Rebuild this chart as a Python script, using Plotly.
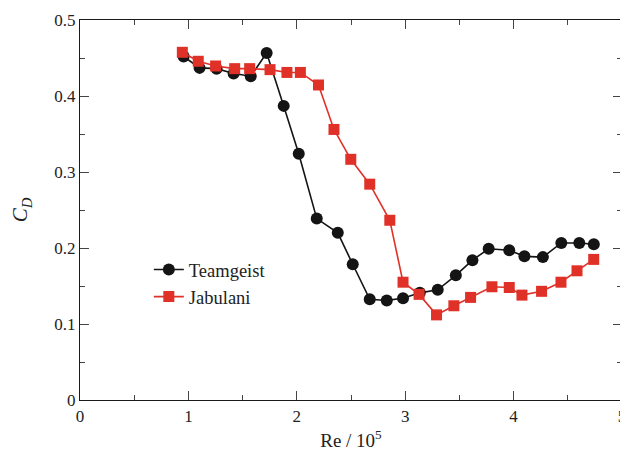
import plotly.graph_objects as go

re_team = [0.956, 1.103, 1.26, 1.417, 1.575, 1.722, 1.879, 2.018, 2.184, 2.378, 2.516, 2.673, 2.83,
           2.98, 3.135, 3.30, 3.467, 3.62, 3.77, 3.96, 4.10, 4.27, 4.44, 4.606, 4.74]
cd_team = [0.452, 0.437, 0.436, 0.4295, 0.426, 0.4566, 0.387, 0.324, 0.2387, 0.220, 0.1786, 0.1325, 0.131,
           0.134, 0.141, 0.145, 0.164, 0.184, 0.199, 0.197, 0.189, 0.188, 0.2066, 0.2066, 0.205]

re_jab = [0.944, 1.091, 1.251, 1.427, 1.565, 1.753, 1.909, 2.033, 2.20, 2.343, 2.498, 2.673, 2.858,
          2.98, 3.128, 3.289, 3.449, 3.603, 3.80, 3.96, 4.077, 4.258, 4.437, 4.585, 4.739]
cd_jab = [0.4575, 0.4457, 0.4395, 0.436, 0.436, 0.4347, 0.431, 0.431, 0.4145, 0.356, 0.3167, 0.284, 0.2365,
          0.155, 0.139, 0.112, 0.124, 0.135, 0.149, 0.148, 0.138, 0.143, 0.155, 0.170, 0.185]

x_ticks = [0, 1, 2, 3, 4, 5]
y_ticks = [0, 0.1, 0.2, 0.3, 0.4, 0.5]
y_tick_labels = ["0", "0.1", "0.2", "0.3", "0.4", "0.5"]

BLACK = "#141414"
RED = "#e03128"
FONT = "Liberation Serif"

fig = go.Figure()
fig.add_trace(go.Scatter(
    x=re_team, y=cd_team, mode="lines+markers", name="Teamgeist",
    line=dict(color=BLACK, width=1.6),
    marker=dict(symbol="circle", size=12, color=BLACK),
))
fig.add_trace(go.Scatter(
    x=re_jab, y=cd_jab, mode="lines+markers", name="Jabulani",
    line=dict(color=RED, width=1.6),
    marker=dict(symbol="square", size=11, color=RED),
))

axis_common = dict(
    showgrid=False, zeroline=False, showline=True, linecolor="#1a1a1a", linewidth=1.3,
    mirror="allticks", ticks="inside", ticklen=9, tickwidth=1, tickcolor="#444",
    tickfont=dict(family=FONT, size=17, color="#222"), automargin=False,
)

fig.update_xaxes(
    range=[0, 5], tickvals=x_ticks, ticktext=[str(v) for v in x_ticks],
    minor=dict(ticks="inside", ticklen=5, dtick=0.5, tickcolor="#444"),
    title=dict(text="Re / 10<sup>5</sup>", font=dict(family=FONT, size=19, color="#222"), standoff=9),
    **axis_common,
)
fig.update_yaxes(
    range=[0, 0.5], tickvals=y_ticks, ticktext=y_tick_labels,
    minor=dict(ticks="inside", ticklen=5, dtick=0.05, tickcolor="#444"),
    title=dict(text="<i>C<sub>D</sub></i>", font=dict(family=FONT, size=21, color="#222"), standoff=20),
    **axis_common,
)

# page body has an 8px margin, so the figure is sized/offset to fill the window
fig.update_layout(
    width=620, height=457,
    margin=dict(l=72, r=6, t=12, b=65),
    paper_bgcolor="white", plot_bgcolor="white",
    font=dict(family=FONT, color="#222"),
    legend=dict(x=0.127, y=0.392, xanchor="left", yanchor="top",
                font=dict(family=FONT, size=18.5, color="#222"),
                bgcolor="rgba(0,0,0,0)", itemwidth=30, tracegroupgap=0),
    showlegend=True,
)

fig.write_html("out.html")
